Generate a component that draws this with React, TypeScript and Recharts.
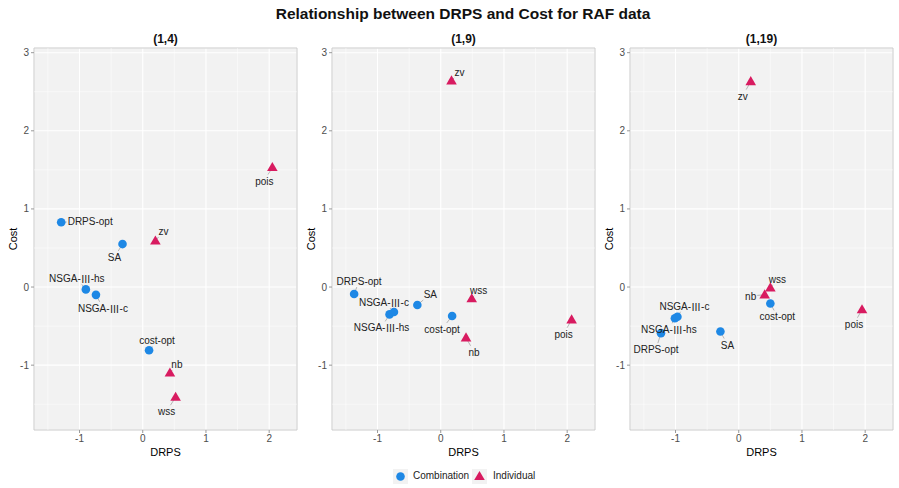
import React from 'react'
import {
  ScatterChart,
  Scatter,
  XAxis,
  YAxis,
  CartesianGrid,
  ReferenceLine,
  ReferenceArea
} from 'recharts'

const FONT = '"Liberation Sans", Arial, sans-serif'
const CJK = '"Noto Sans CJK SC", "Noto Sans CJK JP", sans-serif'
const BLUE = '#1E88E5'
const RED = '#D81B60'

const panelTitles = ['(1,4)', '(1,9)', '(1,19)']
const combinationNames = ['DRPS-opt', 'SA', 'NSGA-Ⅲ-hs', 'NSGA-Ⅲ-c', 'cost-opt']
const individualNames = ['zv', 'pois', 'nb', 'wss']

// (1,4)
const drpsComb14 = [-1.29, -0.32, -0.9, -0.74, 0.1]
const costComb14 = [0.83, 0.55, -0.03, -0.1, -0.81]
const drpsInd14 = [0.2, 2.05, 0.43, 0.52]
const costInd14 = [0.59, 1.53, -1.1, -1.41]

// (1,9)
const drpsComb19 = [-1.37, -0.37, -0.81, -0.74, 0.18]
const costComb19 = [-0.09, -0.23, -0.35, -0.32, -0.37]
const drpsInd19 = [0.17, 2.07, 0.4, 0.49]
const costInd19 = [2.64, -0.42, -0.65, -0.15]

// (1,19)
const drpsComb119 = [-1.23, -0.29, -1.01, -0.97, 0.5]
const costComb119 = [-0.59, -0.57, -0.4, -0.38, -0.21]
const drpsInd119 = [0.19, 1.95, 0.41, 0.5]
const costInd119 = [2.63, -0.29, -0.1, -0.01]

const xTicks = [-1, 0, 1, 2]
const yTicks = [-1, 0, 1, 2, 3]
const xMinor = [-1.5, -0.5, 0.5, 1.5]
const yMinor = [-1.5, -0.5, 0.5, 1.5, 2.5]
const xDomain: [number, number] = [-1.72, 2.44]
const yDomain: [number, number] = [-1.83, 3.06]

// repelled label placement: text centre offset from the point, in px
type Placement = Record<string, [number, number]>
const place14: Placement = {
  'DRPS-opt': [29, -1], SA: [-8, 13], 'NSGA-Ⅲ-hs': [-9, -11], 'NSGA-Ⅲ-c': [7, 13],
  'cost-opt': [8, -10], zv: [8, -10], pois: [-8, 13], nb: [7, -9], wss: [-9, 14]
}
const place19: Placement = {
  'DRPS-opt': [5, -13], SA: [13, -11], 'NSGA-Ⅲ-c': [-10, -10], 'NSGA-Ⅲ-hs': [-8, 13],
  'cost-opt': [-10, 13], zv: [8, -9], wss: [7, -9], nb: [8, 14], pois: [-8, 14]
}
const place119: Placement = {
  zv: [-8, 14], wss: [7, -9], nb: [-14, 1], 'cost-opt': [7, 13], pois: [-8, 14],
  'NSGA-Ⅲ-c': [7, -11], 'NSGA-Ⅲ-hs': [-6, 11], 'DRPS-opt': [-5, 16], SA: [7, 13]
}

const toPoints = (names: string[], xs: number[], ys: number[]) =>
  names.map((name, i) => ({ name, x: xs[i], y: ys[i] }))

// split a label so the roman numeral is set in the CJK face
const splitLabel = (s: string) => s.split(/(Ⅲ)/).filter((p) => p !== '')

let ctx: CanvasRenderingContext2D | null = null
function textWidth(s: string) {
  if (!ctx) ctx = document.createElement('canvas').getContext('2d')
  if (!ctx) return s.length * 5.5
  let w = 0
  for (const part of splitLabel(s)) {
    ctx.font = `10px ${part === 'Ⅲ' ? CJK : FONT}`
    w += ctx.measureText(part).width
  }
  return w
}

function renderPoint(props: any, kind: 'circle' | 'triangle', placement: Placement) {
  const { cx, cy, payload } = props
  if (cx == null || cy == null) return <g />
  const [dx, dy] = placement[payload.name] || [0, -10]
  const hw = textWidth(payload.name) / 2 + 1
  const hh = 6
  const t = Math.min(dx === 0 ? Infinity : hw / Math.abs(dx), dy === 0 ? Infinity : hh / Math.abs(dy))
  const segLen = (1 - t) * Math.hypot(dx, dy)
  return (
    <g>
      {t < 1 && segLen > 2 && (
        <line
          x1={cx}
          y1={cy}
          x2={cx + dx * (1 - t)}
          y2={cy + dy * (1 - t)}
          stroke="#9a9a9a"
          strokeWidth={0.7}
        />
      )}
      {kind === 'circle' ? (
        <circle cx={cx} cy={cy} r={4.3} fill={BLUE} />
      ) : (
        <polygon points={`${cx},${cy - 5.5} ${cx + 5.3},${cy + 3.6} ${cx - 5.3},${cy + 3.6}`} fill={RED} />
      )}
      <text
        x={cx + dx}
        y={cy + dy}
        textAnchor="middle"
        dominantBaseline="central"
        fontSize={10}
        fontFamily={FONT}
        fill="#222"
      >
        {splitLabel(payload.name).map((part, i) =>
          part === 'Ⅲ' ? (
            <tspan key={i} fontFamily={CJK}>{part}</tspan>
          ) : (
            <tspan key={i}>{part}</tspan>
          )
        )}
      </text>
    </g>
  )
}

interface PanelProps {
  left: number
  title: string
  comb: { name: string; x: number; y: number }[]
  ind: { name: string; x: number; y: number }[]
  placement: Placement
}

function Panel({ left, title, comb, ind, placement }: PanelProps) {
  const tick = { fill: '#4D4D4D', fontSize: 10, fontFamily: FONT }
  return (
    <div style={{ position: 'absolute', left, top: 0 }}>
      <div
        style={{
          position: 'absolute', left: 34, top: 31, width: 263, textAlign: 'center',
          fontFamily: FONT, fontWeight: 'bold', fontSize: 12, lineHeight: '16px', color: '#111'
        }}
      >
        {title}
      </div>
      <ScatterChart width={300} height={470} margin={{ top: 48, right: 3, bottom: 10, left: 0 }}>
        <CartesianGrid fill="#F2F2F2" stroke="#FFFFFF" strokeWidth={1.1} />
        {xMinor.map((v) => (
          <ReferenceLine key={`vx${v}`} x={v} stroke="#FFFFFF" strokeWidth={0.5} />
        ))}
        {yMinor.map((v) => (
          <ReferenceLine key={`hy${v}`} y={v} stroke="#FFFFFF" strokeWidth={0.5} />
        ))}
        <ReferenceArea
          x1={xDomain[0]} x2={xDomain[1]} y1={yDomain[0]} y2={yDomain[1]}
          fill="none" stroke="#CBCBCB" strokeWidth={1}
        />
        <XAxis
          type="number"
          dataKey="x"
          domain={xDomain}
          ticks={xTicks}
          allowDataOverflow
          axisLine={false}
          tickLine={{ stroke: '#9a9a9a' }}
          tickSize={3}
          tickMargin={2}
          tick={tick}
          height={30}
          label={{ value: 'DRPS', position: 'insideBottom', offset: 4, fill: '#000', fontSize: 11, fontFamily: FONT }}
        />
        <YAxis
          type="number"
          dataKey="y"
          domain={yDomain}
          ticks={yTicks}
          allowDataOverflow
          axisLine={false}
          tickLine={{ stroke: '#9a9a9a' }}
          tickSize={3}
          tickMargin={2}
          tick={tick}
          width={34}
          label={{ value: 'Cost', angle: -90, position: 'center', dx: -4, fill: '#000', fontSize: 11, fontFamily: FONT }}
        />
        <Scatter
          name="Combination"
          data={comb}
          isAnimationActive={false}
          shape={(p: any) => renderPoint(p, 'circle', placement)}
        />
        <Scatter
          name="Individual"
          data={ind}
          isAnimationActive={false}
          shape={(p: any) => renderPoint(p, 'triangle', placement)}
        />
      </ScatterChart>
    </div>
  )
}

export default function App() {
  const legendText = { fontFamily: FONT, fontSize: 10, color: '#222', position: 'absolute' as const, top: 469, lineHeight: '14px' }
  return (
    <div style={{ position: 'absolute', left: 0, top: 0, width: 899, height: 488, background: '#fff', overflow: 'hidden' }}>
      <div
        style={{
          position: 'absolute', left: 263, top: 4, width: 400, textAlign: 'center',
          fontFamily: FONT, fontWeight: 'bold', fontSize: 15.5, lineHeight: '20px', color: '#111'
        }}
      >
        Relationship between DRPS and Cost for RAF data
      </div>
      <Panel left={0} title={panelTitles[0]} comb={toPoints(combinationNames, drpsComb14, costComb14)} ind={toPoints(individualNames, drpsInd14, costInd14)} placement={place14} />
      <Panel left={298} title={panelTitles[1]} comb={toPoints(combinationNames, drpsComb19, costComb19)} ind={toPoints(individualNames, drpsInd19, costInd19)} placement={place19} />
      <Panel left={596} title={panelTitles[2]} comb={toPoints(combinationNames, drpsComb119, costComb119)} ind={toPoints(individualNames, drpsInd119, costInd119)} placement={place119} />
      <svg style={{ position: 'absolute', left: 392, top: 468 }} width={100} height={17}>
        <rect x={1} y={1} width={15} height={15} fill="#F2F2F2" />
        <circle cx={8.5} cy={8.5} r={4.3} fill={BLUE} />
        <rect x={80} y={1} width={15} height={15} fill="#F2F2F2" />
        <polygon points="87.5,3 92.8,12.1 82.2,12.1" fill={RED} />
      </svg>
      <div style={{ ...legendText, left: 413 }}>Combination</div>
      <div style={{ ...legendText, left: 493 }}>Individual</div>
    </div>
  )
}
